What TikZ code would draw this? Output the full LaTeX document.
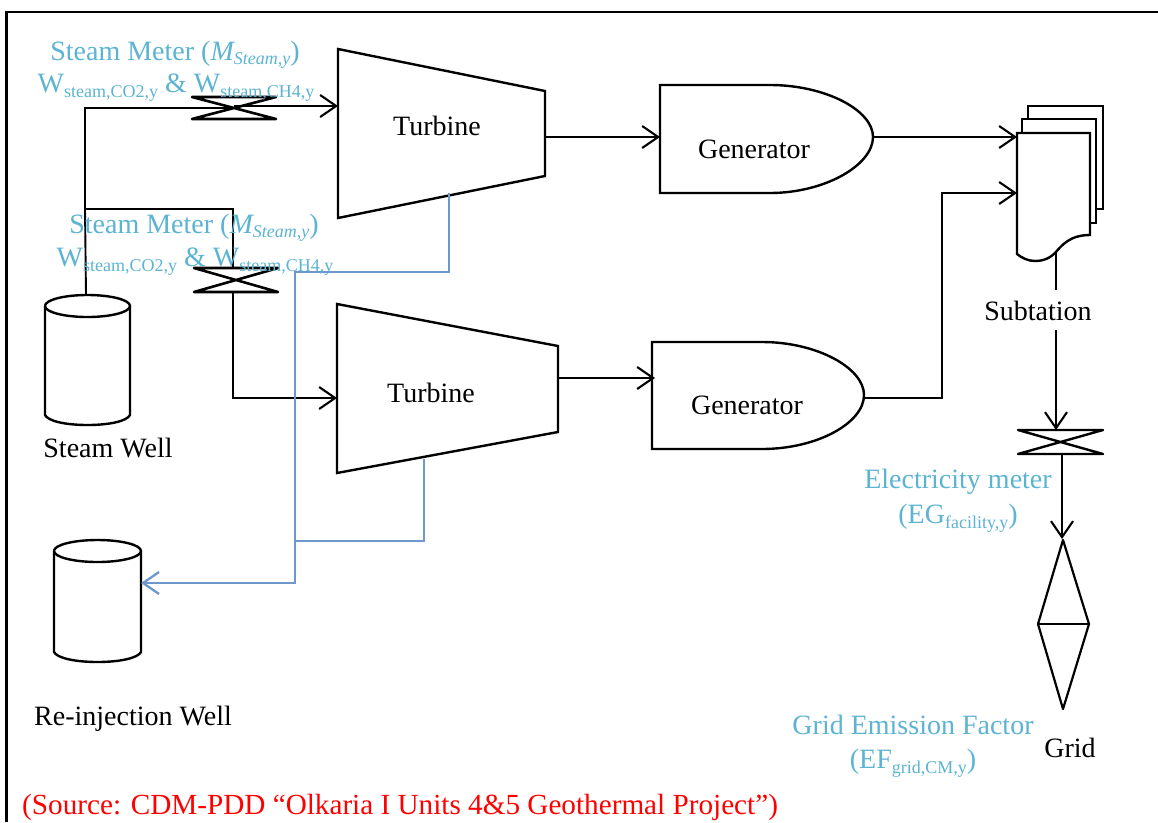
\documentclass[tikz,border=0pt]{standalone}
\usepackage{fontspec}
\setmainfont{Liberation Serif}
\usetikzlibrary{arrows.meta}
\definecolor{labelblue}{HTML}{5CB4D2}
\definecolor{pipeblue}{HTML}{6E97CC}
\definecolor{srcred}{HTML}{FF0000}
\newcommand{\sbs}[2][-5pt]{\raisebox{#1}{\fontsize{18}{18}\selectfont #2}}
\tikzset{
  x=1pt,y=-1pt,
  shapeline/.style={draw=black,line width=2.4pt,line join=round},
  pipe/.style={draw=black,line width=1.9pt},
  tipped/.style={-{Straight Barb[length=16pt,width=22pt,line width=2.1pt]}},
  bluepipe/.style={draw=pipeblue,line width=2.3pt},
  bluethin/.style={draw=pipeblue,line width=1.1pt},
  blacktext/.style={inner sep=0pt,anchor=base,font=\fontsize{28}{30}\selectfont,text=black},
  bluetext/.style={inner sep=0pt,anchor=base,font=\fontsize{28}{30}\selectfont,text=labelblue},
}
\begin{document}
\begin{tikzpicture}
\useasboundingbox (0,0) rectangle (1158,822);
\fill[white] (0,0) rectangle (1158,822);
% frame
\draw[black,line width=2.8pt] (6.5,822) -- (6.5,12) -- (1158,12);

% coordinates
\coordinate (wellTop) at (86,295);
\coordinate (corner1) at (85,108);
\coordinate (branch) at (85,209);
\coordinate (branchR) at (233,209);
\coordinate (m1L) at (234,108);
\coordinate (m1R) at (234,106);
\coordinate (t1in) at (338,106);
\coordinate (m2top) at (233,268);
\coordinate (m2bot) at (233,292);
\coordinate (elbow2) at (233,398);
\coordinate (t2in) at (337,398);
\coordinate (t1out) at (545,137);
\coordinate (g1in) at (660,137);
\coordinate (t2out) at (558,378);
\coordinate (g2in) at (655,378);
\coordinate (g1out) at (873,137);
\coordinate (g2out) at (864,398);
\coordinate (up2a) at (942,398);
\coordinate (up2b) at (942,193);
\coordinate (subIn1) at (1017,137);
\coordinate (subIn2) at (1017,193);
\coordinate (docOut) at (1056,253);
\coordinate (docOutEnd) at (1056,290);
\coordinate (belowSub) at (1056,330);
\coordinate (m3top) at (1056,430);
\coordinate (m3bot) at (1062,454);
\coordinate (gridTop) at (1062,539);
\coordinate (b1a) at (449,193);
\coordinate (b1b) at (449,272);
\coordinate (b1c) at (295,272);
\coordinate (b1d) at (295,583);
\coordinate (rwell) at (141,583);
\coordinate (b2a) at (424,459);
\coordinate (b2b) at (424,541);
\coordinate (b2c) at (295,541);

% turbines
\draw[shapeline,line join=miter] (338,49) -- (545,91) -- (545,176) -- (338,218) -- cycle;
\draw[shapeline,line join=miter] (337,304) -- (558,346) -- (558,432) -- (337,473) -- cycle;
% generators
\draw[shapeline,line join=miter] (660,85) -- (770,85) .. controls (825,85) and (873,110) .. (873,137) .. controls (873,165) and (825,193) .. (770,193) -- (660,193) -- cycle;
\draw[shapeline,line join=miter] (652,342) -- (762,342) .. controls (817,342) and (864,368) .. (864,395) .. controls (864,423) and (817,449) .. (762,449) -- (652,449) -- cycle;
% document stack
\draw[shapeline,line join=miter] (1028,119) -- (1028,106) -- (1103,106) -- (1103,209) -- (1096,209);
\draw[shapeline,line join=miter] (1022,133) -- (1022,119) -- (1096,119) -- (1096,223) -- (1090,223);
\draw[shapeline,line join=miter] (1017,133) -- (1090,133) -- (1090,235) .. controls (1070,235) and (1062,245) .. (1055,253) .. controls (1048,260) and (1040,261) .. (1035,261) .. controls (1028,261) and (1022,258) .. (1017,254) -- cycle;
% cylinders
\draw[shapeline] (45,306) arc[start angle=180,end angle=-180,x radius=42.5,y radius=11];
\draw[shapeline] (45,306) -- (45,415) .. controls (48,421) and (65,425) .. (87.5,425) .. controls (110,425) and (127,421) .. (130,415) -- (130,306);
\draw[shapeline] (54,551) arc[start angle=180,end angle=-180,x radius=43.5,y radius=11];
\draw[shapeline] (54,551) -- (54,652) .. controls (57,658) and (75,662) .. (97.5,662) .. controls (120,662) and (138,658) .. (141,652) -- (141,551);
% meters
\draw[shapeline,line width=2.6pt] (192,97) -- (276,97) -- (192,119) -- (276,119) -- cycle;
\draw[shapeline,line width=2.6pt] (194,268) -- (278,268) -- (194,292) -- (278,292) -- cycle;
\draw[shapeline] (1018,430) -- (1103,430) -- (1018,454) -- (1103,454) -- cycle;
% grid
\draw[shapeline,line width=2.2pt] (1063,540) -- (1089,624) -- (1063,709) -- (1038,624) -- cycle;
\draw[shapeline,line width=2.2pt] (1038,624) -- (1089,624);

% black connectors
\draw[pipe] (wellTop) -- (branch) -- (corner1) -- (m1L);
\draw[pipe,tipped] (m1R) -- (t1in);
\draw[pipe] (branch) -- (branchR) -- (m2top);
\draw[pipe,tipped] (m2bot) -- (elbow2) -- (t2in);
\draw[pipe,tipped] (t1out) -- (g1in);
\draw[pipe,tipped] (t2out) -- (g2in);
\draw[pipe,tipped] (g1out) -- (subIn1);
\draw[pipe,tipped] (g2out) -- (up2a) -- (up2b) -- (subIn2);
\draw[pipe] (docOut) -- (docOutEnd);
\draw[pipe,tipped] (belowSub) -- (m3top);
\draw[pipe,tipped] (m3bot) -- (gridTop);
% blue connectors
\draw[bluepipe,-{Straight Barb[length=16pt,width=22pt,line width=2.3pt]}] (b1a) -- (b1b) -- (b1c) -- (b1d) -- (rwell);
\draw[bluethin] (b2a) -- (b2b) -- (b2c);

% labels
\node[blacktext] (turbineA) at (437,135) {Turbine};
\node[blacktext] (turbineB) at (431,402) {Turbine};
\node[blacktext] (genA) at (754,158) {Generator};
\node[blacktext] (genB) at (747,414) {Generator};
\node[blacktext] (subst) at (1038,320) {Subtation};
\node[blacktext] (steamwell) at (108,457) {Steam Well};
\node[blacktext] (rewell) at (133,725) {Re-injection Well};
\node[blacktext] (gridlabel) at (1070,757) {Grid};

\node[bluetext] (m1a) at (175,60) {Steam Meter (\textit{M\sbs[-4pt]{Steam,y}})};
\node[bluetext] (m1b) at (176,92) {W\sbs{steam,CO2,y} \& W\sbs{steam,CH4,y}};
\node[bluetext] (m2a) at (194,233) {Steam Meter (\textit{M\sbs[-4pt]{Steam,y}})};
\node[bluetext] (m2b) at (195,266) {W\sbs{steam,CO2,y} \& W\sbs{steam,CH4,y}};
\node[bluetext] (m3a) at (958,488) {Electricity meter};
\node[bluetext] (m3b) at (958,523) {(EG\sbs{facility,y})};
\node[bluetext] (efa) at (913,734) {Grid Emission Factor};
\node[bluetext] (efb) at (913,768) {(EF\sbs{grid,CM,y})};
\node[inner sep=0pt,anchor=base west,font=\fontsize{29.2}{31}\selectfont,text=srcred] (source) at (22,814) {(Source: CDM-PDD “Olkaria I Units 4\&5 Geothermal Project”)};
\end{tikzpicture}
\end{document}
